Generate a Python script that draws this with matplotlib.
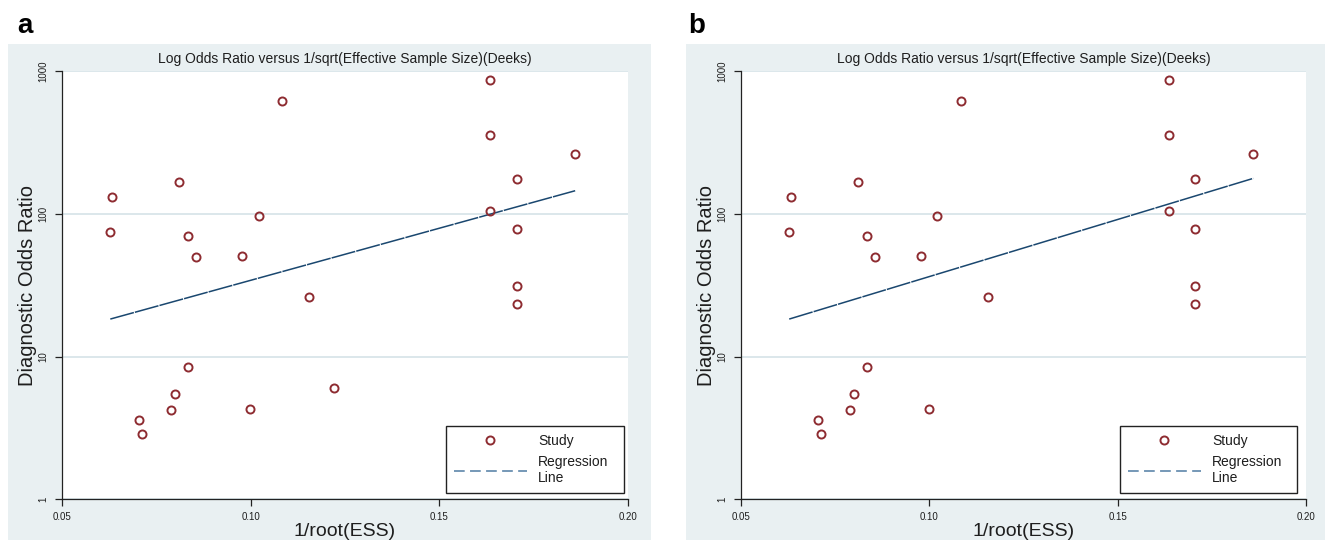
import matplotlib
matplotlib.use("Agg")
import matplotlib.pyplot as plt
from matplotlib.patches import Rectangle
from matplotlib.lines import Line2D
from matplotlib.ticker import NullLocator

plt.rcParams["font.family"] = ["Liberation Sans", "DejaVu Sans"]

# ---- data: log DOR vs 1/sqrt(ESS) (Deeks funnel plot) ----
x_ticks = [0.05, 0.10, 0.15, 0.20]
x_ticklabels = ["0.05", "0.10", "0.15", "0.20"]
y_ticks = [1, 10, 100, 1000]
y_ticklabels = ["1", "10", "100", "1000"]

inv_root_ess_a = [0.0633, 0.0628, 0.0810, 0.0835, 0.0856, 0.0978, 0.1021, 0.1083,
                  0.1155, 0.1221, 0.0835, 0.0799, 0.0790, 0.0704, 0.0712, 0.0999,
                  0.1635, 0.1635, 0.1635, 0.1705, 0.1705, 0.1705, 0.1705, 0.1860]
dor_a = [132, 74, 167, 70, 49.5, 50.8, 96, 615,
         26.2, 6.05, 8.44, 5.46, 4.2, 3.59, 2.88, 4.31,
         865, 355, 104, 175, 78, 31, 23.2, 262]

inv_root_ess_b = [0.0633, 0.0628, 0.0810, 0.0835, 0.0856, 0.0978, 0.1021, 0.1083,
                  0.1155, 0.0835, 0.0799, 0.0790, 0.0704, 0.0712, 0.0999,
                  0.1635, 0.1635, 0.1635, 0.1705, 0.1705, 0.1705, 0.1705, 0.1860]
dor_b = [132, 74, 167, 70, 49.5, 50.8, 96, 615,
         26.2, 8.44, 5.46, 4.2, 3.59, 2.88, 4.31,
         865, 355, 104, 175, 78, 31, 23.2, 262]

reg_x = [0.0628, 0.1860]
reg_dor_a = [18.3, 145]
reg_dor_b = [18.3, 177]

title = "Log Odds Ratio versus 1/sqrt(Effective Sample Size)(Deeks)"
xlabel = "1/root(ESS)"
ylabel = "Diagnostic Odds Ratio"
legend_labels = ["Study", "Regression\nLine"]

# ---- style ----
W, H = 1325, 540
BG = "#e9f0f2"
GRID = "#dce7eb"
MARKER = "#8e2c31"
LINE = "#1a476f"
TXT = "#1e1e1e"

fig = plt.figure(figsize=(W / 100, H / 100), dpi=100)
fig.patch.set_facecolor("white")


def px_rect(x0, y0, x1, y1):
    """Figure-fraction rectangle from pixel coords (origin top-left)."""
    return [x0 / W, 1 - y1 / H, (x1 - x0) / W, (y1 - y0) / H]


def panel(letter, letter_x, region, axrect, xs, ys, reg_y, leg_box):
    # graph region behind the plot
    r = px_rect(*region)
    fig.patches.append(Rectangle((r[0], r[1]), r[2], r[3], transform=fig.transFigure,
                                 facecolor=BG, edgecolor="none", zorder=-5))
    fig.text(letter_x / W, 1 - 33 / H, letter,
             fontsize=20, fontweight="bold", color="black", ha="left", va="baseline")

    ax = fig.add_axes(px_rect(*axrect), zorder=2)
    ax_w = axrect[2] - axrect[0]
    ax_h = axrect[3] - axrect[1]
    ax.set_facecolor("white")
    ax.set_yscale("log")
    ax.set_xlim(0.05, 0.20)
    ax.set_ylim(1, 1000)

    ax.set_xticks(x_ticks)
    ax.set_xticklabels(x_ticklabels)
    ax.set_yticks(y_ticks)
    ax.set_yticklabels(y_ticklabels, rotation=90, va="center")
    ax.yaxis.set_minor_locator(NullLocator())
    ax.tick_params(axis="both", direction="out", length=5, width=0.9,
                   labelsize=7, colors="#222222", labelcolor=TXT)
    ax.tick_params(axis="x", pad=4)
    ax.tick_params(axis="y", pad=5)

    ax.yaxis.grid(True, color=GRID, linewidth=1.4)
    ax.set_axisbelow(True)
    for s in ("top", "right"):
        ax.spines[s].set_visible(False)
    for s in ("left", "bottom"):
        ax.spines[s].set_color("#222222")
        ax.spines[s].set_linewidth(0.9)

    ax.plot(reg_x, reg_y, color=LINE, linewidth=1.1, linestyle=(0, (16, 0.7)), zorder=2)
    ax.plot(xs, ys, linestyle="none", marker="o", markersize=5.8, markerfacecolor="none",
            markeredgecolor=MARKER, markeredgewidth=1.4, zorder=3, clip_on=False)

    ax.set_title(title, fontsize=10, color=TXT, pad=6)
    ax.set_xlabel(xlabel, fontsize=14, color=TXT, labelpad=1)
    ax.set_ylabel(ylabel, fontsize=14.5, color=TXT)
    ax.yaxis.set_label_coords(-25 / ax_w, 0.5)

    handles = [
        Line2D([], [], linestyle="none", marker="o", markersize=5.8, markerfacecolor="none",
               markeredgecolor=MARKER, markeredgewidth=1.4),
        Line2D([], [], color="#4f7ca3", linewidth=1.1, linestyle=(0, (7, 3.5))),
    ]
    lx0, ly1, lx1, ly0 = leg_box  # pixel box: left, bottom, right, top
    anchor = ((lx0 - axrect[0]) / ax_w, (axrect[3] - ly1) / ax_h,
              (lx1 - lx0) / ax_w, (ly1 - ly0) / ax_h)
    leg = ax.legend(handles, legend_labels, loc="lower left", bbox_to_anchor=anchor,
                    mode="expand", fontsize=10, frameon=True, fancybox=False,
                    edgecolor="#222222", handlelength=5.3, handletextpad=0.8,
                    labelspacing=0.55, borderpad=0.55, borderaxespad=0, labelcolor=TXT)
    leg.get_frame().set_linewidth(1.0)
    leg.get_frame().set_facecolor("white")
    leg.get_frame().set_alpha(1)
    return ax


panel("a", 17, (8, 44, 651, 540), (62, 71, 628, 499.3),
      inv_root_ess_a, dor_a, reg_dor_a, (446, 493, 624, 426))
panel("b", 688, (686, 44, 1325, 540), (741, 71, 1306, 499.3),
      inv_root_ess_b, dor_b, reg_dor_b, (1120, 493, 1297, 426))

fig.savefig("out.png", dpi=100, facecolor="white")
